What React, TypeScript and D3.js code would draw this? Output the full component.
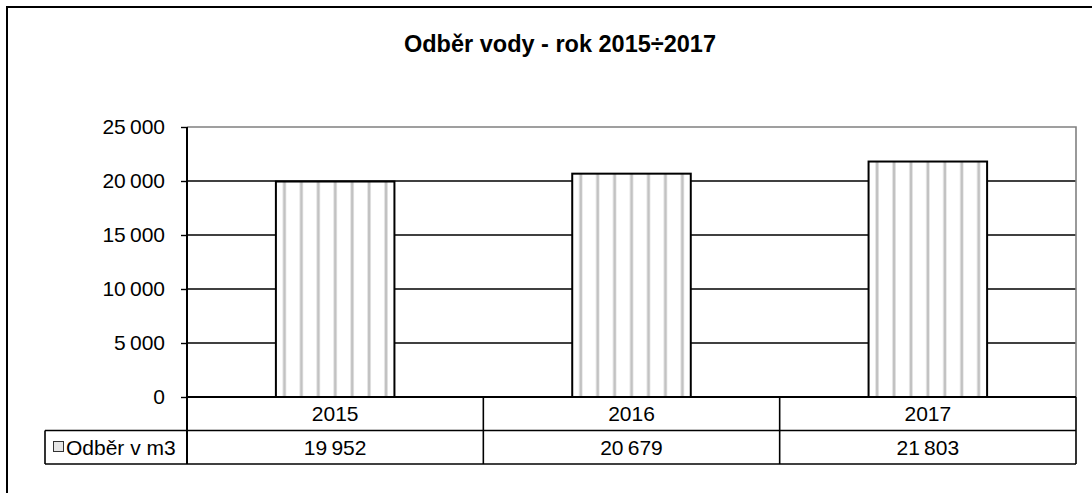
import { useEffect, useRef } from "react";
import * as d3 from "d3";

// chart data
const years = ["2015", "2016", "2017"];
const odber = [19952, 20679, 21803];
const yTicks = [0, 5000, 10000, 15000, 20000, 25000];
const seriesName = "Odběr v m3";
const title = "Odběr vody - rok 2015÷2017";

const W = 1092;
const H = 493;

const App = () => {
    const svgRef = useRef<SVGSVGElement>(null);

    useEffect(() => {
        const svg = d3.select(svgRef.current);
        svg.selectAll("*").remove();

        const font = "'Liberation Sans', Arial, sans-serif";
        const fs = 21;
        const loc = d3.formatLocale({
            decimal: ",",
            thousands: "\u2009",
            grouping: [3],
            currency: ["", " Kč"],
        });
        const fmt = loc.format(",d");

        // plot area
        const left = 187;
        const right = 1076;
        const top = 127;
        const bottom = 397;
        const rowH = 33.5;

        const x = d3
            .scaleBand()
            .domain(years)
            .range([left, right])
            .paddingInner(0.6)
            .paddingOuter(0.3);

        const y = d3.scaleLinear().domain([0, 25000]).range([bottom, top]);

        // outer chart frame
        svg.append("rect")
            .attr("x", 7)
            .attr("y", 7)
            .attr("width", 1120)
            .attr("height", 520)
            .attr("fill", "#fff")
            .attr("stroke", "#000")
            .attr("stroke-width", 2);

        // title
        svg.append("text")
            .attr("x", 560)
            .attr("y", 52)
            .attr("text-anchor", "middle")
            .attr("font-family", font)
            .attr("font-weight", "bold")
            .attr("font-size", 23.5)
            .text(title);

        // gridlines
        svg.append("g")
            .selectAll("line")
            .data(yTicks.filter((d) => d > 0 && d < 25000))
            .join("line")
            .attr("x1", left)
            .attr("x2", right)
            .attr("y1", (d) => y(d))
            .attr("y2", (d) => y(d))
            .attr("stroke", "#000")
            .attr("stroke-width", 1.4);

        // plot border (top + right) in gray
        svg.append("path")
            .attr("d", `M${left},${y(25000)}H${right}V${bottom}`)
            .attr("fill", "none")
            .attr("stroke", "#808080")
            .attr("stroke-width", 1.6);

        // y axis
        const yAxis = svg.append("g").attr("transform", `translate(${left},0)`);
        yAxis
            .call(
                d3
                    .axisLeft(y)
                    .tickValues(yTicks)
                    .tickSize(6)
                    .tickPadding(16)
                    .tickFormat((d) => fmt(d as number))
            )
            .call((g) => g.select(".domain").remove());
        yAxis.selectAll(".tick line").attr("stroke", "#000").attr("stroke-width", 1.4);
        yAxis
            .selectAll(".tick text")
            .attr("font-family", font)
            .attr("font-size", fs)
            .attr("fill", "#000");

        // bars
        const bars = svg.append("g");
        years.forEach((yr, i) => {
            const bx = x(yr)!;
            const bw = x.bandwidth();
            const by = y(odber[i]);
            bars.append("rect")
                .attr("x", bx)
                .attr("y", by)
                .attr("width", bw)
                .attr("height", bottom - by)
                .attr("fill", "#fff");
            const n = 7;
            d3.range(n).forEach((k) => {
                const sx = bx + (k + 0.5) * (bw / n);
                bars.append("rect")
                    .attr("x", sx - 2)
                    .attr("y", by)
                    .attr("width", 4)
                    .attr("height", bottom - by)
                    .attr("fill", "#e6e6e6");
                bars.append("rect")
                    .attr("x", sx - 1)
                    .attr("y", by)
                    .attr("width", 2.2)
                    .attr("height", bottom - by)
                    .attr("fill", "#c2c2c2");
            });
            bars.append("rect")
                .attr("x", bx)
                .attr("y", by)
                .attr("width", bw)
                .attr("height", bottom - by)
                .attr("fill", "none")
                .attr("stroke", "#000")
                .attr("stroke-width", 2);
        });

        // data table
        const table = svg.append("g").attr("stroke", "#000").attr("stroke-width", 1.6);
        const r1 = bottom + rowH;
        const r2 = bottom + 2 * rowH;
        table.append("line").attr("x1", left).attr("x2", right).attr("y1", bottom).attr("y2", bottom).attr("stroke-width", 2);
        table.append("line").attr("x1", 45).attr("x2", right).attr("y1", r1).attr("y2", r1);
        table.append("line").attr("x1", 45).attr("x2", right).attr("y1", r2).attr("y2", r2);
        table.append("line").attr("x1", 45).attr("x2", 45).attr("y1", r1).attr("y2", r2);
        table.append("line").attr("x1", left).attr("x2", left).attr("y1", top).attr("y2", r2).attr("stroke-width", 2);
        const step = x.step();
        years.forEach((yr, i) => {
            const cx = left + step * (i + 1);
            table.append("line").attr("x1", cx).attr("x2", cx).attr("y1", bottom).attr("y2", r2);
        });

        const labels = svg.append("g").attr("font-family", font).attr("font-size", fs).attr("text-anchor", "middle");
        years.forEach((yr, i) => {
            const cx = x(yr)! + x.bandwidth() / 2;
            labels.append("text").attr("x", cx).attr("y", bottom + rowH / 2).attr("dy", "0.35em").text(yr);
            labels.append("text").attr("x", cx).attr("y", r1 + rowH / 2).attr("dy", "0.35em").text(fmt(odber[i]));
        });

        // legend key in table
        svg.append("rect")
            .attr("x", 53.5)
            .attr("y", 441.5)
            .attr("width", 10)
            .attr("height", 10)
            .attr("fill", "#e6e6e6")
            .attr("stroke", "#333")
            .attr("stroke-width", 1);
        svg.append("text")
            .attr("x", 66)
            .attr("y", r1 + rowH / 2)
            .attr("dy", "0.35em")
            .attr("font-family", font)
            .attr("font-size", fs)
            .text(seriesName);
    }, []);

    return (
        <svg
            ref={svgRef}
            width={W}
            height={H}
            style={{ position: "absolute", left: 0, top: 0, background: "#fff" }}
        ></svg>
    );
};

export default App;
